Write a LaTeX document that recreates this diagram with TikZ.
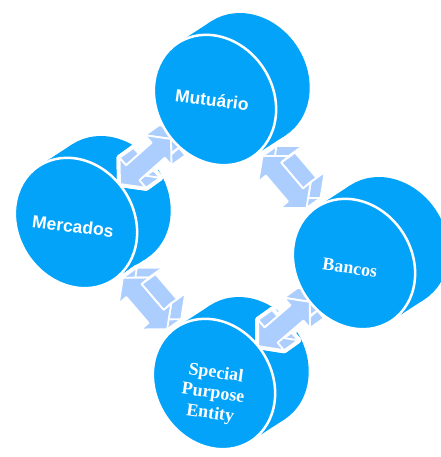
\documentclass[tikz,border=0pt]{standalone}
\usepackage{fontspec}
\setmainfont{Liberation Serif}
\setsansfont{Liberation Sans}
\usetikzlibrary{calc}

\definecolor{discblue}{RGB}{3,163,250}
\definecolor{linkblue}{RGB}{172,206,255}

% one double arrow block: back outline, side walls, front outline
\newcommand{\linkblock}[1]{%
  \draw[#1] (k1) \foreach \i in {2,...,10} { -- (k\i) } -- cycle;
  \foreach \i/\j in {1/2, 2/3, 3/4, 4/5, 5/6, 6/7, 7/8, 8/9, 9/10, 10/1}
    \draw[#1] (f\i) -- (f\j) -- (k\j) -- (k\i) -- cycle;
  \draw[#1] (f1) \foreach \i in {2,...,10} { -- (f\i) } -- cycle;
}

\begin{document}
\begin{tikzpicture}[x=1pt, y=-1pt,
  discbody/.style={fill=discblue},
  discface/.style={fill=discblue, draw=white, line width=2.5pt},
  linkhalo/.style={fill=white, draw=white, line width=6pt, line join=round},
  linkface/.style={fill=linkblue, draw=white, line width=1.8pt, line join=round},
  sanslabel/.style={text=white, font=\sffamily\bfseries\fontsize{17.5}{20}\selectfont, rotate=-7},
  seriflabel/.style={text=white, font=\bfseries\fontsize{18}{20.5}\selectfont, rotate=-8, align=center}]

\useasboundingbox (0,0) rectangle (440,457);

% Centres of the discs
\coordinate (mut) at (215,100);
\coordinate (mer) at (76,223);
\coordinate (ban) at (354,264);
\coordinate (spe) at (214,384);

% Disc bodies (back part)
\foreach \n in {mut, mer, ban, spe} {
  \begin{scope}[shift={(\n)}, rotate=33]
    \fill[discbody] (40,0) ellipse [x radius=58, y radius=68];
    \fill[discbody] (0,-68) rectangle (40,68);
  \end{scope}
}

% Links between the discs
\foreach \a/\b in {mer/mut, mut/ban, mer/spe, spe/ban} {
  \coordinate (m) at ($(\a)!0.5!(\b)+(0,0)$);
  \foreach \i/\px/\py in {1/-34/0, 2/-17/20, 3/-17/10, 4/17/10, 5/17/20,
                          6/34/0, 7/17/-20, 8/17/-10, 9/-17/-10, 10/-17/-20} {
    \coordinate (t) at ($(m)!\px pt!(\b)$);
    \coordinate (f\i) at ($(t)!\py pt!90:(\b)$);
    \coordinate (k\i) at ($(f\i)+(14,-10)$);
  }
  \linkblock{linkhalo}
  \linkblock{linkface}
}

% Disc fronts
\foreach \n in {mut, mer, ban, spe}
  \draw[discface, rotate around={33:(\n)}] (\n) ellipse [x radius=58, y radius=68];

% Labels
\node[sanslabel] (mutlbl) at ($(mut)+(-3,0)$) {Mutuário};
\node[sanslabel] (merlbl) at ($(mer)+(-3,3)$) {Mercados};
\node[seriflabel] (banlbl) at ($(ban)+(-4,4)$) {Bancos};
\node[seriflabel] (spelbl) at ($(spe)+(-1,10)$) {Special\\Purpose\\Entity};
\end{tikzpicture}
\end{document}
